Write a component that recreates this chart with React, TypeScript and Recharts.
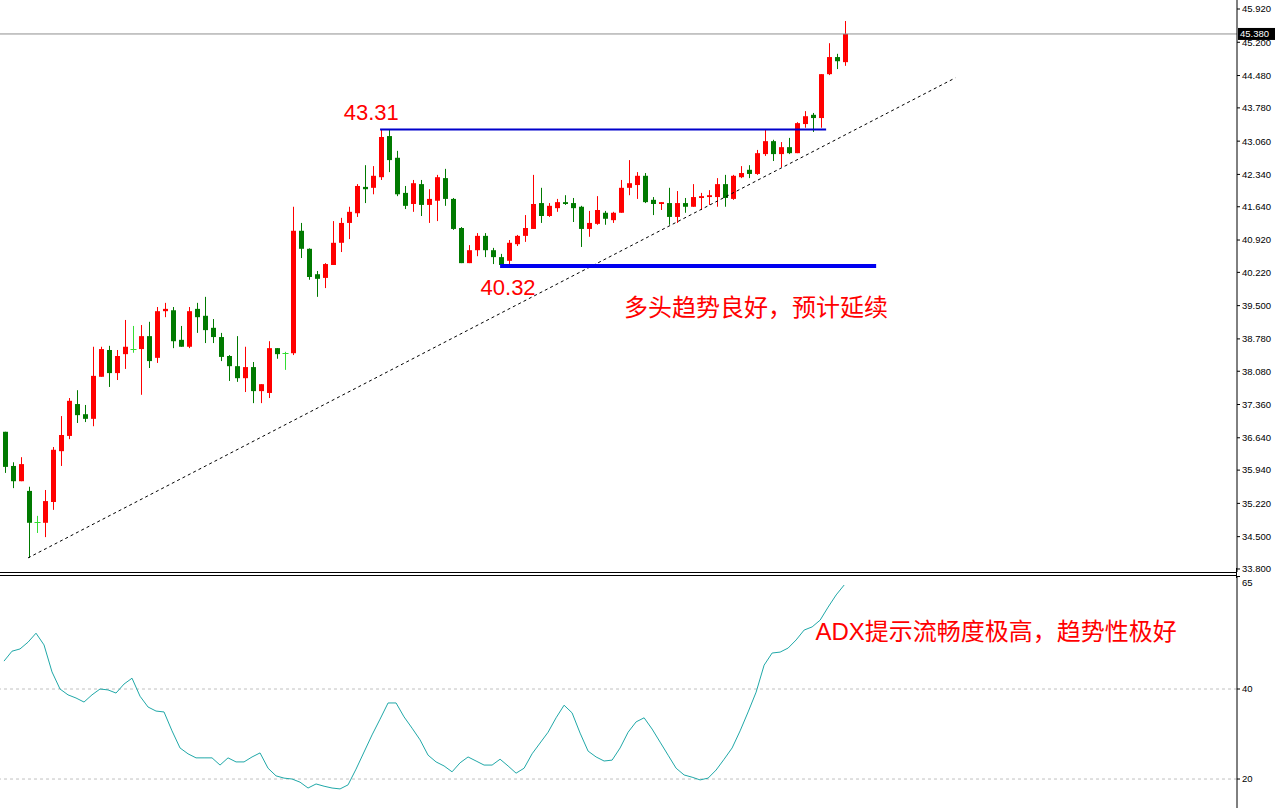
import React from 'react';
import { ComposedChart, Bar, Line, XAxis, YAxis, ReferenceLine, ReferenceDot } from 'recharts';

const opens = [36.77, 36.03, 35.70, 35.49, 34.82, 34.80, 35.25, 36.35, 36.68, 37.37, 37.15, 37.05, 37.96, 38.54, 38.04, 38.45, 38.56, 38.56, 38.84, 38.37, 39.38, 39.40, 38.76, 38.61, 39.43, 39.28, 39.02, 38.82, 38.41, 38.19, 37.93, 38.17, 37.65, 37.61, 38.58, 38.48, 38.47, 41.12, 40.73, 40.18, 40.10, 40.38, 40.86, 41.29, 41.50, 42.07, 42.05, 42.28, 43.17, 42.70, 41.94, 41.70, 42.13, 41.68, 41.77, 42.26, 41.81, 41.18, 40.42, 40.70, 41.01, 40.70, 40.55, 40.47, 40.83, 41.01, 41.16, 41.72, 41.44, 41.61, 41.74, 41.72, 41.64, 41.16, 41.27, 41.51, 41.35, 41.51, 42.05, 42.11, 42.31, 41.79, 41.70, 41.72, 41.42, 41.72, 41.64, 41.83, 41.85, 41.85, 42.13, 41.81, 42.28, 42.44, 42.35, 42.78, 43.06, 42.78, 42.93, 42.80, 43.43, 43.63, 43.56, 44.51, 44.88, 44.77];
const highs = [36.77, 36.11, 36.22, 35.58, 34.95, 35.51, 36.44, 37.11, 37.50, 37.67, 37.35, 38.61, 38.61, 38.63, 38.54, 39.19, 39.06, 39.08, 39.15, 39.47, 39.56, 39.47, 39.06, 39.47, 39.56, 39.69, 39.21, 38.91, 38.43, 38.84, 38.61, 38.28, 37.80, 38.73, 38.58, 38.50, 41.64, 41.29, 40.74, 40.25, 40.42, 41.33, 41.40, 41.64, 42.13, 42.54, 42.52, 43.31, 43.30, 42.85, 42.09, 42.22, 42.22, 42.02, 42.33, 42.46, 41.83, 41.20, 40.81, 41.07, 41.07, 40.75, 40.62, 40.92, 41.03, 41.46, 42.33, 42.05, 41.72, 41.81, 41.89, 41.83, 41.66, 41.55, 41.87, 41.55, 41.53, 42.22, 42.65, 42.39, 42.37, 41.85, 41.74, 42.05, 41.98, 41.83, 42.13, 41.94, 42.00, 42.26, 42.33, 42.33, 42.52, 42.54, 42.87, 43.30, 43.09, 43.04, 43.13, 43.47, 43.71, 43.67, 44.51, 45.18, 44.95, 45.66];
const lows = [35.88, 35.55, 35.70, 34.04, 34.58, 34.49, 35.08, 36.03, 36.61, 36.96, 36.98, 36.89, 37.96, 37.74, 37.89, 38.13, 38.48, 37.57, 38.15, 38.26, 39.25, 38.58, 38.61, 38.58, 38.91, 38.69, 38.69, 38.30, 37.87, 37.85, 37.63, 37.39, 37.39, 37.50, 38.35, 38.11, 38.43, 40.53, 40.06, 39.69, 39.88, 40.38, 40.66, 40.94, 41.42, 41.72, 41.91, 42.22, 42.39, 41.87, 41.59, 41.53, 41.44, 41.29, 41.33, 41.66, 41.14, 40.42, 40.42, 40.57, 40.55, 40.40, 40.32, 40.34, 40.79, 40.88, 41.16, 41.29, 41.42, 41.53, 41.68, 41.31, 40.77, 40.99, 41.25, 41.25, 41.29, 41.51, 41.89, 41.81, 41.72, 41.46, 41.57, 41.25, 41.29, 41.51, 41.64, 41.57, 41.68, 41.64, 41.64, 41.79, 42.26, 42.26, 42.33, 42.74, 42.63, 42.50, 42.78, 42.80, 43.35, 43.26, 43.35, 44.49, 44.62, 44.69];
const closes = [36.01, 35.70, 36.07, 34.80, 34.82, 35.27, 36.38, 36.70, 37.44, 37.13, 37.05, 37.98, 38.56, 38.04, 38.41, 38.61, 38.56, 38.84, 38.30, 39.38, 39.43, 38.73, 38.61, 39.38, 39.25, 38.97, 38.82, 38.39, 38.19, 37.93, 38.17, 37.65, 37.80, 38.58, 38.45, 38.48, 41.12, 40.73, 40.12, 40.08, 40.40, 40.86, 41.29, 41.53, 42.09, 42.02, 42.31, 43.15, 42.65, 41.91, 41.66, 42.15, 41.68, 41.81, 42.28, 41.81, 41.16, 40.42, 40.70, 41.01, 40.70, 40.55, 40.38, 40.86, 41.01, 41.18, 41.70, 41.44, 41.66, 41.74, 41.70, 41.61, 41.16, 41.29, 41.57, 41.38, 41.51, 42.05, 42.15, 42.31, 41.74, 41.70, 41.74, 41.42, 41.72, 41.64, 41.85, 41.87, 41.89, 42.13, 41.83, 42.31, 42.37, 42.35, 42.80, 43.06, 42.78, 42.93, 42.80, 43.45, 43.60, 43.56, 44.51, 44.88, 44.79, 45.38];
const adxValues = [46.2, 48.4, 48.9, 50.4, 52.4, 49.8, 43.8, 40.0, 38.7, 38.0, 37.1, 38.7, 40.0, 39.8, 39.1, 41.1, 42.4, 38.4, 36.0, 35.1, 34.9, 30.7, 26.9, 25.6, 24.7, 24.7, 24.7, 23.1, 24.7, 23.8, 23.8, 24.9, 25.8, 22.4, 20.7, 20.2, 20.0, 19.3, 18.0, 18.9, 18.4, 18.0, 17.8, 18.7, 22.2, 26.0, 29.8, 33.3, 36.9, 36.9, 33.8, 31.3, 28.7, 25.3, 23.8, 22.9, 21.6, 23.6, 24.9, 24.0, 23.1, 23.1, 24.4, 22.9, 21.3, 22.4, 25.6, 28.0, 30.4, 33.6, 36.4, 34.7, 30.2, 26.2, 24.9, 24.0, 24.2, 26.9, 30.4, 32.7, 33.6, 31.1, 28.2, 25.3, 22.4, 20.9, 20.4, 19.8, 20.2, 22.0, 24.4, 26.9, 30.7, 34.9, 39.3, 45.3, 48.0, 48.2, 49.1, 50.9, 53.1, 53.8, 55.3, 58.2, 60.9, 63.1];

const priceTicks = [33.8, 34.5, 35.22, 35.94, 36.64, 37.36, 38.08, 38.78, 39.5, 40.22, 40.92, 41.64, 42.34, 43.06, 43.78, 44.48, 45.2, 45.92];
const adxTicks = [20, 40, 65];
const adxLevels = [40, 20];
const currentPrice = 45.38;
const resistanceLevel = 43.31;
const supportLevel = 40.36;
const resistanceLabel = '43.31';
const supportLabel = '40.32';
const trendStart = { x: 3, y: 34.04 };
const trendEnd = { x: 118.9, y: 44.43 };
const bullText = '多头趋势良好，预计延续';
const adxText = 'ADX提示流畅度极高，趋势性极好';

const UP = '#ff0000';
const DOWN = '#007a00';
const DOJI = '#33dd33';
const FONT = "'Liberation Sans', Arial, 'Noto Sans CJK SC', sans-serif";

const candles = opens.map((o, i) => ({ i, open: o, high: highs[i], low: lows[i], close: closes[i] }));
const adxData = adxValues.map((v, i) => ({ i, adx: v }));

const Candle = (props: any) => {
  const { x, y, width, height, payload } = props;
  if (x == null || payload == null || isNaN(y)) return null;
  const { open, close, high, low } = payload;
  const top = Math.min(y, y + height);
  const h = Math.abs(height);
  const k = high === low ? 0 : h / (high - low);
  const py = (v: number) => top + (high - v) * k;
  const cx = Math.round(x + width / 2) + 0.5;
  const color = close > open ? UP : close < open ? DOWN : DOJI;
  const bt = py(Math.max(open, close));
  const bb = py(Math.min(open, close));
  const left = cx - 2.5;
  return (
    <g>
      <line x1={cx} x2={cx} y1={py(high)} y2={py(low)} stroke={color} strokeWidth={1} />
      {close === open ? (
        <line x1={left - 0.5} x2={left + 5.5} y1={Math.round(bt) + 0.5} y2={Math.round(bt) + 0.5} stroke={color} strokeWidth={1} />
      ) : (
        <rect x={left} y={bt} width={5} height={Math.max(1, bb - bt)} fill={color} />
      )}
    </g>
  );
};

const PriceLabel = (props: any) => {
  const vb = props.viewBox || {};
  const x = (vb.x || 0) + (vb.width || 0);
  const y = vb.y || 0;
  return (
    <g>
      <rect x={x + 1} y={y - 6} width={37} height={12} fill="#000" />
      <text x={x + 3} y={y} dy="0.35em" fill="#fff" fontSize={9.5} fontFamily={FONT}>
        {currentPrice.toFixed(3)}
      </text>
    </g>
  );
};

const AdxTick = (props: any) => {
  const { x, y, payload } = props;
  const top = payload.value === 65;
  return (
    <text x={x} y={top ? y + 6 : y} dy="0.35em" fontSize={9.5} fill="#000" fontFamily={FONT} textAnchor="start">
      {payload.value}
    </text>
  );
};

const textShape = (txt: string, anchor: string, size: number, baseline?: string) => (p: any) => (
  <text x={p.cx} y={p.cy} textAnchor={anchor} dominantBaseline={baseline} fontSize={size} fill="#ff0000" fontFamily={FONT}>
    {txt}
  </text>
);

export default function App() {
  return (
    <div style={{ position: 'absolute', left: 0, top: 0, width: 1278, height: 808, background: '#fff', overflow: 'hidden' }}>
      <div style={{ position: 'absolute', left: 0, top: 0 }}>
        <ComposedChart width={1278} height={572} data={candles} margin={{ top: 0, right: 0, bottom: 0, left: 0 }}>
          <XAxis dataKey="i" type="number" domain={[-0.5, 154.1]} hide allowDataOverflow />
          <YAxis
            orientation="right"
            width={41}
            domain={[33.735, 46.115]}
            ticks={priceTicks}
            interval={0}
            tickSize={3}
            allowDataOverflow
            axisLine={{ stroke: '#000' }}
            tickLine={{ stroke: '#000' }}
            tick={{ fontSize: 9.5, fill: '#000', fontFamily: FONT }}
            tickFormatter={(v: number) => v.toFixed(3)}
          />
          <ReferenceLine
            segment={[trendStart, trendEnd]}
            stroke="#000"
            strokeDasharray="3 3"
            strokeWidth={1}
            ifOverflow="visible"
          />
          <ReferenceLine
            segment={[{ x: 47, y: resistanceLevel }, { x: 102.75, y: resistanceLevel }]}
            stroke="#0000cc"
            strokeWidth={2}
            ifOverflow="visible"
          />
          <ReferenceLine
            segment={[{ x: 62, y: supportLevel }, { x: 109, y: supportLevel }]}
            stroke="#0000f0"
            strokeWidth={4}
            ifOverflow="visible"
          />
          <Bar dataKey={(d: any) => [d.low, d.high]} barSize={5} shape={Candle} isAnimationActive={false} />
          <ReferenceLine y={currentPrice} stroke="#909090" strokeWidth={1} label={PriceLabel} />
          <ReferenceDot x={45.9} y={43.52} r={0} shape={textShape(resistanceLabel, 'middle', 22)} />
          <ReferenceDot x={63} y={39.73} r={0} shape={textShape(supportLabel, 'middle', 22)} />
          <ReferenceDot x={94} y={39.45} r={0} shape={textShape(bullText, 'middle', 24, 'central')} />
        </ComposedChart>
      </div>
      <div style={{ position: 'absolute', left: 0, top: 572, width: 1237, height: 1, background: '#000' }} />
      <div style={{ position: 'absolute', left: 0, top: 575, width: 1237, height: 1, background: '#000' }} />
      <div style={{ position: 'absolute', left: 1236, top: 568, width: 1, height: 10, background: '#000' }} />
      <div style={{ position: 'absolute', left: 0, top: 576 }}>
        <ComposedChart width={1278} height={232} data={adxData} margin={{ top: 0, right: 0, bottom: 0, left: 0 }}>
          <XAxis dataKey="i" type="number" domain={[-0.5, 154.1]} hide allowDataOverflow />
          <YAxis
            orientation="right"
            width={41}
            domain={[13.56, 65.11]}
            ticks={adxTicks}
            interval={0}
            tickSize={3}
            allowDataOverflow
            axisLine={{ stroke: '#000' }}
            tickLine={{ stroke: '#000' }}
            tick={AdxTick}
          />
          {adxLevels.map((lv) => (
            <ReferenceLine key={lv} y={lv} stroke="#c0c0c0" strokeDasharray="3 3" strokeWidth={1} />
          ))}
          <Line dataKey="adx" stroke="#20a8a8" strokeWidth={1} dot={false} isAnimationActive={false} />
          <ReferenceDot x={124} y={52.67} r={0} shape={textShape(adxText, 'middle', 24, 'central')} />
        </ComposedChart>
      </div>
    </div>
  );
}
